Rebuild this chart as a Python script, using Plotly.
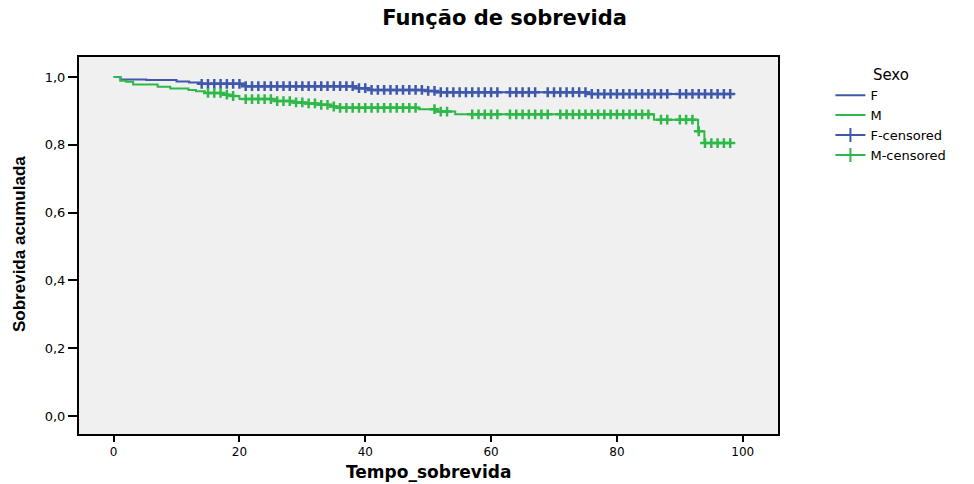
import plotly.graph_objects as go
import numpy as np

# ---- data ----
F_time = [0, 1.1, 5.2, 10, 12, 13.7, 21, 38.5, 40.6, 49.6, 51.2, 75.1, 98.8]
F_surv = [1.0, 0.993, 0.991, 0.987, 0.984, 0.980, 0.973, 0.967, 0.962, 0.959, 0.955, 0.950, 0.950]

M_time = [0, 1.06, 2.0, 3.1, 7.0, 9.0, 11.9, 13.1, 14.5, 17.5, 18.5, 20.0, 25.5, 28.5,
          30.5, 32.5, 34.5, 35.5, 48.5, 51.2, 54.3, 85.9, 92.9, 93.9, 98.8]
M_surv = [1.0, 0.989, 0.986, 0.978, 0.971, 0.966, 0.962, 0.958, 0.953, 0.948, 0.944, 0.935,
          0.929, 0.925, 0.922, 0.918, 0.913, 0.909, 0.905, 0.898, 0.890, 0.874, 0.840, 0.805, 0.805]

F_censored = list(range(14, 62)) + list(range(63, 68)) + list(range(69, 89)) + list(range(90, 99))
M_censored = (list(range(15, 20)) + list(range(21, 49)) + [51, 52, 53] + list(range(57, 62))
              + list(range(63, 70)) + list(range(71, 86)) + [87, 88] + list(range(90, 99)))

x_ticks = [0, 20, 40, 60, 80, 100]
y_ticks = [0.0, 0.2, 0.4, 0.6, 0.8, 1.0]
y_tick_labels = ["0,0", "0,2", "0,4", "0,6", "0,8", "1,0"]

BLUE = "#3E58AC"
GREEN = "#2EB848"


def surv_at(times, surv, t):
    idx = np.searchsorted(np.array(times), t, side="right") - 1
    return surv[max(idx, 0)]


F_cens_y = [surv_at(F_time, F_surv, t) for t in F_censored]
M_cens_y = [surv_at(M_time, M_surv, t) for t in M_censored]

fig = go.Figure()
fig.add_trace(go.Scatter(x=F_time, y=F_surv, mode="lines", line=dict(shape="hv", color=BLUE, width=2),
                         name="F"))
fig.add_trace(go.Scatter(x=M_time, y=M_surv, mode="lines", line=dict(shape="hv", color=GREEN, width=2),
                         name="M"))
# legend-only glyphs for censored
fig.add_trace(go.Scatter(x=[None], y=[None], mode="lines+markers", name="F-censored",
                         line=dict(color=BLUE, width=2),
                         marker=dict(symbol="line-ns", size=10, line=dict(color=BLUE, width=2))))
fig.add_trace(go.Scatter(x=[None], y=[None], mode="lines+markers", name="M-censored",
                         line=dict(color=GREEN, width=2),
                         marker=dict(symbol="line-ns", size=10, line=dict(color=GREEN, width=2))))
fig.add_trace(go.Scatter(x=F_censored, y=F_cens_y, mode="markers", showlegend=False,
                         marker=dict(symbol="cross-thin", size=7, line=dict(color=BLUE, width=2.5))))
fig.add_trace(go.Scatter(x=M_censored, y=M_cens_y, mode="markers", showlegend=False,
                         marker=dict(symbol="cross-thin", size=7, line=dict(color=GREEN, width=2.5))))

fig.update_layout(
    width=974, height=484,
    margin=dict(l=79, r=196, t=57, b=50),
    paper_bgcolor="white",
    plot_bgcolor="#F0F0F0",
    title=dict(text="<b>Função de sobrevida</b>", x=0.518, xanchor="center", y=0.963, yanchor="middle",
               font=dict(family="DejaVu Sans", size=21, color="black")),
    xaxis=dict(range=[-5.5, 105.6], tickvals=x_ticks, ticks="outside", ticklen=6, tickwidth=2,
               tickcolor="black", showline=True, linecolor="black", linewidth=2, mirror=True,
               showgrid=False, zeroline=False,
               tickfont=dict(family="DejaVu Sans", size=12, color="black")),
    yaxis=dict(range=[-0.053, 1.059], tickvals=y_ticks, ticktext=y_tick_labels, ticks="outside",
               ticklen=9, tickwidth=2, tickcolor="black", showline=True, linecolor="black",
               linewidth=2, mirror=True, showgrid=False, zeroline=False,
               tickfont=dict(family="DejaVu Sans", size=13, color="black")),
    legend=dict(x=1.075, xanchor="left", y=0.99, yanchor="top", bgcolor="rgba(0,0,0,0)",
                title=dict(text="Sexo", side="top center", font=dict(family="DejaVu Sans", size=15, color="black")),
                font=dict(family="DejaVu Sans", size=13, color="black"), tracegroupgap=0),
    annotations=[
        dict(text="<b>Tempo_sobrevida</b>", x=0.5, y=-0.1008, xref="paper", yref="paper",
             xanchor="center", yanchor="middle", showarrow=False,
             font=dict(family="DejaVu Sans", size=17, color="black")),
        dict(text="<b>Sobrevida acumulada</b>", x=-0.0844, y=0.504, xref="paper", yref="paper",
             xanchor="center", yanchor="middle", showarrow=False, textangle=-90,
             font=dict(family="Liberation Sans Narrow, Liberation Sans", size=17, color="black")),
    ],
)

fig.write_html("out.html", config={"displayModeBar": False},
               post_script="document.body.style.margin='0';document.body.style.padding='0';")
